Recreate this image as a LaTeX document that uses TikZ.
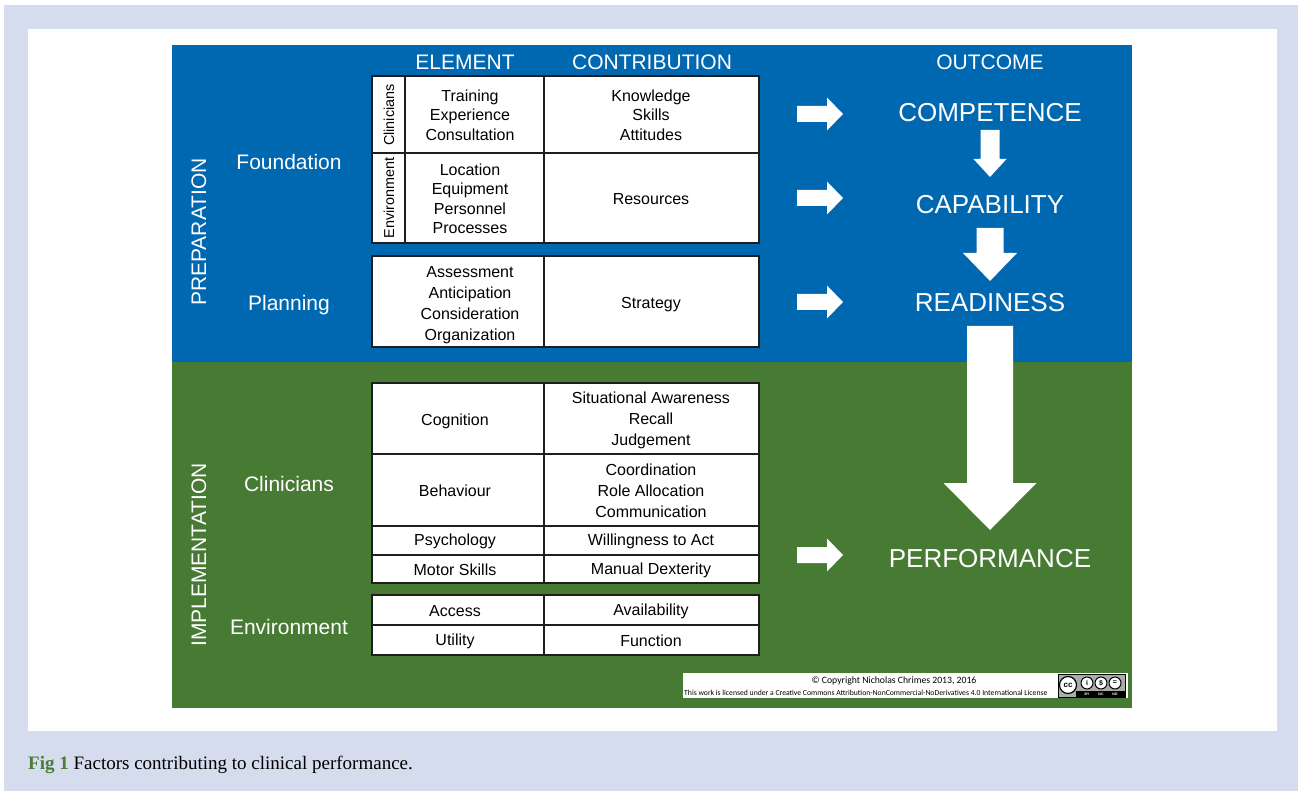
\documentclass[tikz,border=0pt]{standalone}
\usepackage{fontspec}
\setmainfont{Liberation Sans}
\newfontfamily\captionserif{Liberation Serif}
\newfontfamily\licencefont{Carlito}
\definecolor{prepblue}{HTML}{0067B1}
\definecolor{implgreen}{HTML}{477A33}
\definecolor{pagegrey}{HTML}{D4DCEE}
\definecolor{figgreen}{HTML}{4B7D3A}
\definecolor{cellline}{HTML}{1E1E1E}
\definecolor{ccgrey}{HTML}{A9AEA8}

\tikzset{
  heading/.style={text=white, font=\fontsize{21}{25}\selectfont},
  outcome/.style={text=white, font=\fontsize{26}{30}\selectfont},
  phase/.style={text=white, font=\fontsize{21}{25}\selectfont, rotate=90},
  group/.style={text=white, font=\fontsize{21}{25}\selectfont},
  cell/.style={align=center, font=\fontsize{16}{19.5}\selectfont},
  widecell/.style={align=center, font=\fontsize{16}{21}\selectfont},
  sidecell/.style={rotate=90, font=\fontsize{14.4}{17}\selectfont},
  tableframe/.style={draw=cellline, line width=2.8pt},
  tablerule/.style={draw=cellline, line width=1.8pt},
  blockarrow/.style={fill=white},
}

\begin{document}
\begin{tikzpicture}[x=1pt, y=-1pt]
    \useasboundingbox (0,0) rectangle (1298,791);
    % page and panels
    \fill[white] (0,0) rectangle (1298,791);
    \fill[pagegrey] (4,5) rectangle (1298,791);
    \fill[white] (28,29) rectangle (1277,731);
    \fill[prepblue] (172,45) rectangle (1132,362);
    \fill[implgreen] (172,362) rectangle (1132,708);

    % column headings
    \node[heading] (elem) at (465,62) {ELEMENT};
    \node[heading] (contr) at (652,62) {CONTRIBUTION};
    \node[heading] (outc) at (990,62) {OUTCOME};

    % phases and groups
    \node[phase] (prep) at (199,232) {PREPARATION};
    \node[phase] (impl) at (199,555) {IMPLEMENTATION};
    \node[group] (found) at (289,162) {Foundation};
    \node[group] (plan) at (289,305) {Planning};
    \node[group] (clin) at (289,484) {Clinicians};
    \node[group] (envir) at (289,627) {Environment};

    % foundation table
    \fill[white] (372,76) rectangle (759,243);
    \draw[tablerule] (405,76) -- (405,243);
    \draw[tablerule] (544,76) -- (544,243);
    \draw[tablerule] (372,153) -- (759,153);
    \draw[tableframe] (372,76) rectangle (759,243);
    \node[sidecell] (fclin) at (389,115) {Clinicians};
    \node[sidecell] (fenv) at (389,198) {Environment};
    \node[cell] (train) at (470,115) {Training\\Experience\\Consultation};
    \node[cell] (know) at (651,115) {Knowledge\\Skills\\Attitudes};
    \node[cell] (loc) at (470,199) {Location\\Equipment\\Personnel\\Processes};
    \node[cell] (res) at (651,199) {Resources};

    % planning table
    \fill[white] (372,256) rectangle (759,347);
    \draw[tablerule] (544,256) -- (544,347);
    \draw[tableframe] (372,256) rectangle (759,347);
    \node[widecell] (assess) at (470,305) {Assessment\\Anticipation\\Consideration\\Organization};
    \node[cell] (strat) at (651,305) {Strategy};

    % clinicians table
    \fill[white] (372,383) rectangle (759,583);
    \draw[tablerule] (544,383) -- (544,583);
    \foreach \ry in {454,526,555}
        \draw[tablerule] (372,\ry) -- (759,\ry);
    \draw[tableframe] (372,383) rectangle (759,583);
    \node[cell] (cogn) at (455,421) {Cognition};
    \node[widecell] (sitaw) at (651,420) {Situational Awareness\\Recall\\Judgement};
    \node[cell] (behav) at (455,491) {Behaviour};
    \node[widecell] (coord) at (651,491) {Coordination\\Role Allocation\\Communication};
    \node[cell] (psych) at (455,541) {Psychology};
    \node[cell] (will) at (651,541) {Willingness to Act};
    \node[cell] (motor) at (455,570) {Motor Skills};
    \node[cell] (manual) at (651,570) {Manual Dexterity};

    % environment table
    \fill[white] (372,595) rectangle (759,655);
    \draw[tablerule] (544,595) -- (544,655);
    \draw[tablerule] (372,625) -- (759,625);
    \draw[tableframe] (372,595) rectangle (759,655);
    \node[cell] (access) at (455,611) {Access};
    \node[cell] (avail) at (651,611) {Availability};
    \node[cell] (util) at (455,641) {Utility};
    \node[cell] (func) at (651,641) {Function};

    % outcomes
    \node[outcome] (comp) at (990,113) {COMPETENCE};
    \node[outcome] (capa) at (990,205) {CAPABILITY};
    \node[outcome] (ready) at (990,303) {READINESS};
    \node[outcome] (perf) at (990,559) {PERFORMANCE};

    % right arrows
    \foreach \ay in {114,198,302,555}
        \fill[blockarrow] (797,\ay-8) -- (827,\ay-8) -- (827,\ay-16.5) -- (843,\ay)
            -- (827,\ay+16.5) -- (827,\ay+8) -- (797,\ay+8) -- cycle;

    % down arrows
    \foreach \ya/\yb/\yc/\sw/\hw in {130/159/177/9.5/16.5, 228/253/281/13.5/27, 326/483/530/23/46.5}
        \fill[blockarrow] (990-\sw,\ya) -- (990+\sw,\ya) -- (990+\sw,\yb) -- (990+\hw,\yb)
            -- (990,\yc) -- (990-\hw,\yb) -- (990-\sw,\yb) -- cycle;

    % licence strip
    \fill[white] (683,673) rectangle (1128,698);
    \node[font=\licencefont\fontsize{9.7}{10}\selectfont, inner sep=0pt] (copy) at (894,681)
        {\textcopyright{} Copyright Nicholas Chrimes 2013, 2016};
    \node[font=\licencefont\fontsize{7.7}{8}\selectfont, inner sep=0pt, anchor=west] (lic) at (684,692.5)
        {This work is licensed under a Creative Commons Attribution-NonCommercial-NoDerivatives 4.0 International License};
    \fill[ccgrey, draw=black, line width=0.6pt] (1058,674) rectangle (1125,697);
    \fill[black] (1076,691) rectangle (1125,697);
    \node[circle, fill=white, draw=black, line width=1.2pt, minimum size=17pt, inner sep=0pt,
        font=\bfseries\fontsize{8}{8}\selectfont] (ccc) at (1068,685) {cc};
    \node[circle, fill=white, draw=black, line width=1pt, minimum size=12pt, inner sep=0pt,
        font=\bfseries\fontsize{7}{7}\selectfont] (ccby) at (1087,683) {i};
    \node[circle, fill=white, draw=black, line width=1pt, minimum size=12pt, inner sep=0pt,
        font=\bfseries\fontsize{7}{7}\selectfont] (ccnc) at (1101,683) {\$};
    \node[circle, fill=white, draw=black, line width=1pt, minimum size=12pt, inner sep=0pt,
        font=\bfseries\fontsize{7}{7}\selectfont] (ccnd) at (1115,683) {=};
    \node[text=white, font=\bfseries\fontsize{3.5}{4}\selectfont, inner sep=0pt] (lby) at (1087,694.5) {BY};
    \node[text=white, font=\bfseries\fontsize{3.5}{4}\selectfont, inner sep=0pt] (lnc) at (1101,694.5) {NC};
    \node[text=white, font=\bfseries\fontsize{3.5}{4}\selectfont, inner sep=0pt] (lnd) at (1115,694.5) {ND};

    % caption
    \node[anchor=base west, inner sep=0pt, font=\captionserif\fontsize{19}{22}\selectfont] (cap) at (28,769)
        {\textcolor{figgreen}{\bfseries Fig 1} Factors contributing to clinical performance.};
\end{tikzpicture}
\end{document}
